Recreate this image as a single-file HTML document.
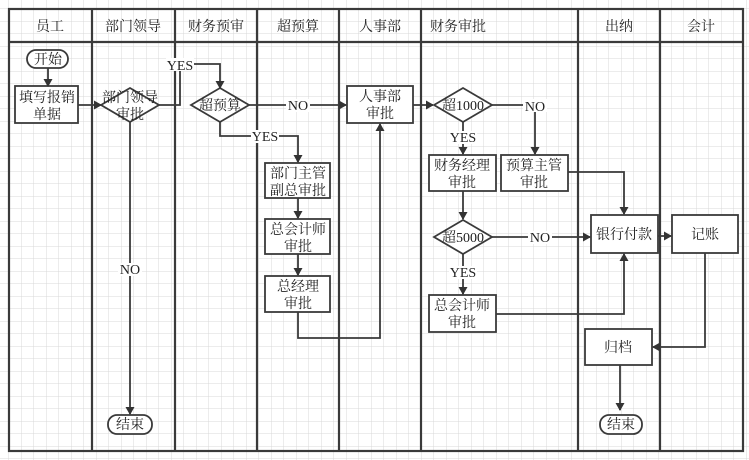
<!DOCTYPE html>
<html><head><meta charset="utf-8"><style>
html,body{margin:0;padding:0;background:#fff;}
svg{display:block;}
text{font-family:"Liberation Serif","Noto Serif CJK SC",serif;font-size:14px;fill:#222;text-anchor:middle;}
</style></head><body>
<svg width="749" height="460" viewBox="0 0 749 460" xmlns="http://www.w3.org/2000/svg">
<defs>
<pattern id="g" width="12.5" height="12.5" patternUnits="userSpaceOnUse" x="9" y="9">
<path d="M12.5 0V12.5M0 12.5H12.5" stroke="#d8d8d8" stroke-width="1" fill="none"/>
</pattern>
<marker id="a" markerWidth="8" markerHeight="9" refX="7" refY="4.5" orient="auto" markerUnits="userSpaceOnUse">
<path d="M0,0L8,4.5L0,9Z" fill="#333"/>
</marker>
</defs>
<rect x="0" y="0" width="749" height="460" fill="url(#g)"/>
<g stroke="#3a3a3a" stroke-width="2.2" fill="none">
<rect x="9" y="9" width="734" height="442"/>
<line x1="9" y1="42" x2="743" y2="42"/>
<line x1="92" y1="9" x2="92" y2="451"/>
<line x1="175" y1="9" x2="175" y2="451"/>
<line x1="257" y1="9" x2="257" y2="451"/>
<line x1="339" y1="9" x2="339" y2="451"/>
<line x1="421" y1="9" x2="421" y2="451"/>
<line x1="578" y1="9" x2="578" y2="451"/>
<line x1="660" y1="9" x2="660" y2="451"/>
</g>
<g>
<text x="50" y="31">员工</text><text x="133" y="31">部门领导</text><text x="216" y="31">财务预审</text>
<text x="298" y="31">超预算</text><text x="380" y="31">人事部</text><text x="458" y="31">财务审批</text>
<text x="619" y="31">出纳</text><text x="701" y="31">会计</text>
</g>
<g stroke="#3a3a3a" stroke-width="1.8" fill="#fff">
<rect x="27" y="50" width="41" height="18" rx="9"/>
<rect x="15" y="86" width="63" height="37"/>
<polygon points="101,105 130,88 159,105 130,122"/>
<polygon points="191,105 220,88 249,105 220,122"/>
<rect x="265" y="163" width="65" height="35"/>
<rect x="265" y="219" width="65" height="35"/>
<rect x="265" y="276" width="65" height="36"/>
<rect x="347" y="86" width="66" height="37"/>
<polygon points="434,105 463,88 492,105 463,122"/>
<rect x="429" y="155" width="67" height="36"/>
<rect x="501" y="155" width="67" height="36"/>
<polygon points="434,237 463,220 492,237 463,254"/>
<rect x="429" y="295" width="67" height="37"/>
<rect x="591" y="215" width="67" height="38"/>
<rect x="672" y="215" width="66" height="38"/>
<rect x="585" y="329" width="67" height="36"/>
<rect x="108" y="415" width="44" height="19" rx="9"/>
<rect x="600" y="415" width="42" height="19" rx="9"/>
</g>
<g stroke="#3a3a3a" stroke-width="1.8" fill="none" marker-end="url(#a)">
<path d="M48,68V86"/>
<path d="M78,105H101"/>
<path d="M159,105H180V64H220V88"/>
<path d="M249,105H346"/>
<path d="M220,122V136H298V162"/>
<path d="M298,198V218"/>
<path d="M298,254V275"/>
<path d="M298,312V338H380V124"/>
<path d="M413,105H433"/>
<path d="M492,105H535V154"/>
<path d="M463,122V154"/>
<path d="M463,191V219"/>
<path d="M568,172H624V214"/>
<path d="M492,237H590"/>
<path d="M463,254V294"/>
<path d="M496,314H624V254"/>
<path d="M658,236H671"/>
<path d="M705,253V347H653"/>
<path d="M620,365V410"/>
<path d="M130,122V414"/>
</g>
<g>
<rect x="166" y="58" width="28" height="13" fill="#fff"/><text x="180" y="70">YES</text>
<rect x="286" y="99" width="24" height="13" fill="#fff"/><text x="298" y="110">NO</text>
<rect x="251" y="130" width="28" height="13" fill="#fff"/><text x="265" y="141">YES</text>
<rect x="523" y="99" width="24" height="13" fill="#fff"/><text x="535" y="111">NO</text>
<rect x="449" y="131" width="28" height="13" fill="#fff"/><text x="463" y="142">YES</text>
<rect x="528" y="231" width="24" height="13" fill="#fff"/><text x="540" y="242">NO</text>
<rect x="449" y="266" width="28" height="13" fill="#fff"/><text x="463" y="277">YES</text>
<rect x="118" y="263" width="24" height="13" fill="#fff"/><text x="130" y="274">NO</text>
<text x="48" y="64">开始</text>
<text x="47" y="102">填写报销</text><text x="47" y="119">单据</text>
<text x="130" y="102">部门领导</text><text x="130" y="119">审批</text>
<text x="220" y="110">超预算</text>
<text x="298" y="178">部门主管</text><text x="298" y="195">副总审批</text>
<text x="298" y="234">总会计师</text><text x="298" y="251">审批</text>
<text x="298" y="291">总经理</text><text x="298" y="308">审批</text>
<text x="380" y="101">人事部</text><text x="380" y="118">审批</text>
<text x="463" y="110">超1000</text>
<text x="462" y="170">财务经理</text><text x="462" y="187">审批</text>
<text x="534" y="170">预算主管</text><text x="534" y="187">审批</text>
<text x="463" y="242">超5000</text>
<text x="462" y="310">总会计师</text><text x="462" y="327">审批</text>
<text x="624" y="239">银行付款</text>
<text x="705" y="239">记账</text>
<text x="618" y="352">归档</text>
<text x="130" y="429">结束</text>
<text x="621" y="429">结束</text>
</g>
</svg>
</body></html>
